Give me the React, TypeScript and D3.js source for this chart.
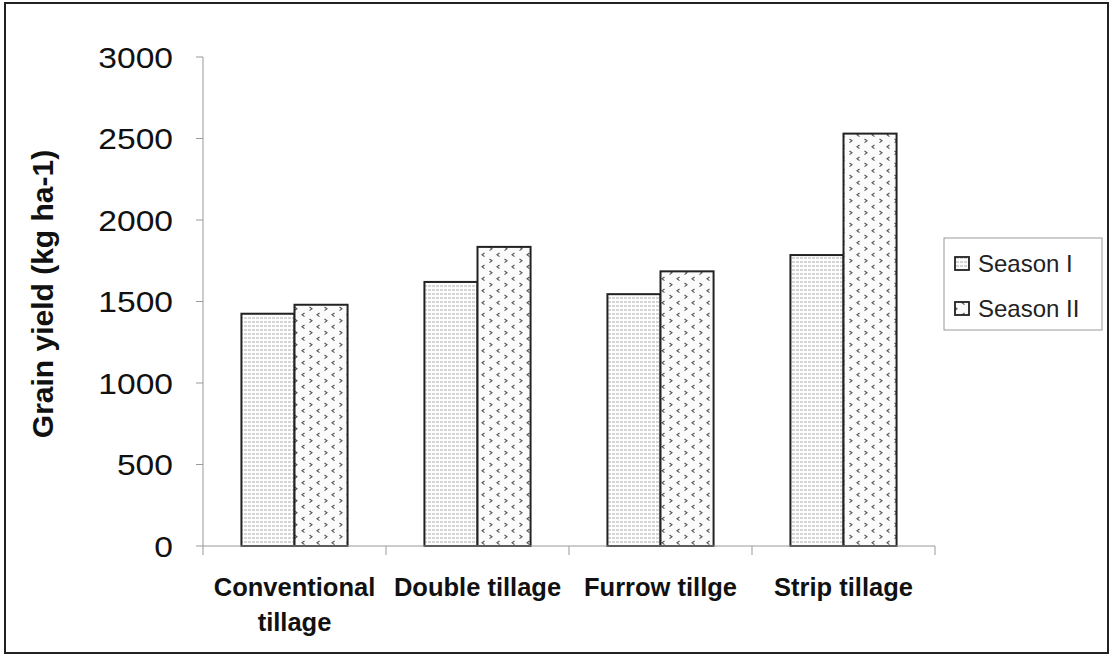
import React from "react";
import * as d3 from "d3";

const categories = [["Conventional", "tillage"], ["Double tillage"], ["Furrow tillge"], ["Strip tillage"]];
const seriesNames = ["Season I", "Season II"];
const seasonI = [1425, 1620, 1545, 1785];
const seasonII = [1480, 1835, 1685, 2530];
const yTicks = [0, 500, 1000, 1500, 2000, 2500, 3000];

const W = 1113, H = 657;
const plot = { left: 203, right: 935, top: 57, bottom: 546 };

export default function App() {
  const x = d3.scaleBand<number>().domain(d3.range(categories.length)).range([plot.left, plot.right]).paddingInner(0).paddingOuter(0);
  const y = d3.scaleLinear().domain([0, 3000]).range([plot.bottom, plot.top]);
  const groupW = x.bandwidth() * 0.58;
  const xs = d3.scaleBand<number>().domain([0, 1]).range([0, groupW]);
  const data = [seasonI, seasonII];
  const fills = ["url(#hlines)", "url(#chev)"];
  const font = "'Liberation Sans', Arial, sans-serif";
  return (
    <svg width={W} height={H} style={{ position: "absolute", left: 0, top: 0, background: "#fff" }} fontFamily={font}>
      <defs>
        <pattern id="hlines" width="4" height="4" patternUnits="userSpaceOnUse">
          <rect width="4" height="4" fill="#fdfdfd" />
          <line x1="0" y1="2" x2="3" y2="2" stroke="#999" strokeWidth="0.8" />
        </pattern>
        <pattern id="chev" width="15" height="12" patternUnits="userSpaceOnUse">
          <rect width="15" height="12" fill="#fbfbfb" />
          <path d="M4.5,1 L2,2.8 L4.5,4.6" fill="none" stroke="#555" strokeWidth="1.1" />
          <path d="M9.5,7 L12,8.8 L9.5,10.6" fill="none" stroke="#555" strokeWidth="1.1" />
        </pattern>
      </defs>
      <rect x={5} y={3} width={1103} height={650} fill="#fff" stroke="#222" strokeWidth={2} />
      {/* y axis */}
      <line x1={plot.left} x2={plot.left} y1={plot.top} y2={plot.bottom} stroke="#999" strokeWidth={1} />
      {yTicks.map(t => (
        <g key={t}>
          <line x1={plot.left - 7} x2={plot.left} y1={y(t)} y2={y(t)} stroke="#999" />
          <text transform={`translate(${plot.left - 30},${y(t)}) scale(1.12,1)`} dy="0.36em" textAnchor="end" fontSize={30} fill="#111">{t}</text>
        </g>
      ))}
      {/* bars */}
      {categories.map((c, i) => {
        const gx = x(i)! + (x.bandwidth() - groupW) / 2;
        return (
          <g key={i}>
            {data.map((s, j) => (
              <rect key={j} x={gx + xs(j)!} y={y(s[i])} width={xs.bandwidth()} height={plot.bottom - y(s[i])}
                fill={fills[j]} stroke="#222" strokeWidth={2} />
            ))}
          </g>
        );
      })}
      {/* x axis */}
      <line x1={plot.left} x2={plot.right} y1={plot.bottom} y2={plot.bottom} stroke="#999" />
      {d3.range(categories.length + 1).map(i => {
        const xx = i < categories.length ? x(i)! : plot.right;
        return <line key={i} x1={xx} x2={xx} y1={plot.bottom} y2={plot.bottom + 9} stroke="#999" />;
      })}
      {categories.map((c, i) => (
        <text key={i} x={x(i)! + x.bandwidth() / 2} y={596} textAnchor="middle" fontSize={25.5} fontWeight="bold" fill="#111">
          {c.map((ln, k) => <tspan key={k} x={x(i)! + x.bandwidth() / 2} dy={k === 0 ? 0 : 35}>{ln}</tspan>)}
        </text>
      ))}
      <text transform="translate(53,294) rotate(-90)" textAnchor="middle" fontSize={30} fontWeight="bold" fill="#111">Grain yield (kg ha-1)</text>
      {/* legend */}
      <rect x={944} y={238} width={158} height={92} fill="#fff" stroke="#999" strokeWidth={1} />
      {seriesNames.map((n, j) => (
        <g key={n}>
          <rect x={955} y={257 + j * 45} width={14} height={13} fill={fills[j]} stroke="#222" strokeWidth={1.8} />
          <text x={978} y={264 + j * 45} dy="0.35em" fontSize={24} fill="#222">{n}</text>
        </g>
      ))}
    </svg>
  );
}
